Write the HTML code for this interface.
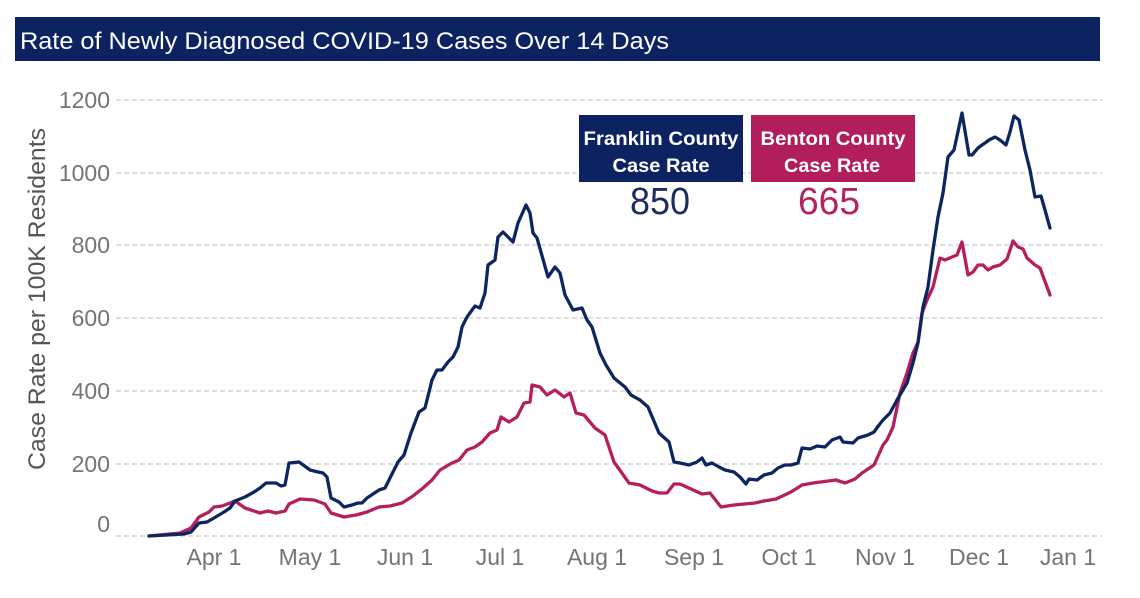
<!DOCTYPE html>
<html>
<head>
<meta charset="utf-8">
<style>
  html,body{margin:0;padding:0;background:#fff;}
  svg{display:block;}
  text{font-family:"Liberation Sans", Arial, sans-serif;}
</style>
</head>
<body>
<svg width="1140" height="598" viewBox="0 0 1140 598" xmlns="http://www.w3.org/2000/svg">
  <rect x="0" y="0" width="1140" height="598" fill="#ffffff"/>
  <!-- Title bar -->
  <rect x="15" y="17" width="1085" height="44" fill="#0c2261"/>
  <text x="20" y="49" font-size="24" fill="#ffffff" textLength="649" lengthAdjust="spacingAndGlyphs">Rate of Newly Diagnosed COVID-19 Cases Over 14 Days</text>

  <!-- Gridlines -->
  <g stroke="#d2d2d2" stroke-width="1.5" stroke-dasharray="5,3" fill="none">
    <line x1="116" y1="100" x2="1102" y2="100"/>
    <line x1="116" y1="173" x2="1102" y2="173"/>
    <line x1="116" y1="245" x2="1102" y2="245"/>
    <line x1="116" y1="318" x2="1102" y2="318"/>
    <line x1="116" y1="391" x2="1102" y2="391"/>
    <line x1="116" y1="464" x2="1102" y2="464"/>
    <line x1="116" y1="536" x2="1102" y2="536"/>
  </g>

  <!-- Y labels -->
  <g font-size="23" fill="#747474" text-anchor="end">
    <text x="110" y="108">1200</text>
    <text x="110" y="181">1000</text>
    <text x="110" y="253">800</text>
    <text x="110" y="326">600</text>
    <text x="110" y="399">400</text>
    <text x="110" y="472">200</text>
    <text x="110" y="532">0</text>
  </g>

  <!-- Y axis title -->
  <text transform="translate(45,299) rotate(-90)" font-size="24" fill="#555555" text-anchor="middle" textLength="342" lengthAdjust="spacingAndGlyphs">Case Rate per 100K Residents</text>

  <!-- X labels -->
  <g font-size="23" fill="#747474" text-anchor="middle">
    <text x="214" y="565">Apr 1</text>
    <text x="310" y="565">May 1</text>
    <text x="405" y="565">Jun 1</text>
    <text x="500" y="565">Jul 1</text>
    <text x="597" y="565">Aug 1</text>
    <text x="694" y="565">Sep 1</text>
    <text x="789" y="565">Oct 1</text>
    <text x="885" y="565">Nov 1</text>
    <text x="979" y="565">Dec 1</text>
    <text x="1068" y="565">Jan 1</text>
  </g>

  <!-- Benton line -->
  <polyline fill="none" stroke="#b41f5c" stroke-width="3.3" stroke-linejoin="round" stroke-linecap="round" points="
149,536 180,533 191,528 199,517 209,512 214,507 222,506 230,503 235,501 245,508 260,513 268,511 276,513 285,511 289,504 300,499 314,500 325,504 331,513 344,517 356,515 367,512 379,507 390,506 402,503 413,496 423,488 432,480 440,470 452,463 459,460 467,450 475,447 482,442 490,433 497,430 501,417 509,422 517,417 524,403 530,402 532,385 540,387 547,395 555,390 564,397 570,393 576,413 584,415 595,428 605,435 614,462 629,483 640,485 652,491 659,493 667,493 674,484 680,484 691,489 702,494 710,493 721,507 734,505 755,503 764,501 776,499 791,492 802,485 813,483 836,480 845,483 855,479 862,473 874,465 883,445 887,440 893,427 900,393 907,373 913,353 918,342 922,313 927,300 933,287 940,258 945,260 952,257 957,255 962,242 968,275 973,272 978,265 983,265 988,270 993,267 1000,265 1007,259 1013,241 1018,247 1023,249 1027,258 1035,265 1040,268 1050,295"/>

  <!-- Franklin line -->
  <polyline fill="none" stroke="#0d2660" stroke-width="3.3" stroke-linejoin="round" stroke-linecap="round" points="
149,536 184,534 191,532 199,523 207,522 214,518 224,512 230,508 235,501 245,497 254,492 260,488 266,483 276,483 281,486 285,485 289,463 299,462 306,467 310,470 318,472 323,473 327,477 331,498 339,502 344,507 352,505 358,503 362,503 367,498 379,490 385,488 390,478 398,462 404,455 411,433 419,412 425,408 432,380 437,370 442,370 448,362 453,357 458,347 462,327 467,317 475,306 480,308 485,293 488,265 495,260 498,237 503,232 508,237 513,242 518,223 526,205 530,213 533,233 537,238 548,277 555,267 560,273 565,295 573,310 582,308 587,320 592,327 600,353 606,365 614,378 625,387 631,395 640,400 648,407 659,433 669,442 674,462 680,463 689,465 697,462 702,458 706,465 712,463 719,467 725,470 734,472 740,477 746,484 749,479 757,480 764,475 772,473 778,468 785,465 791,465 798,463 802,448 810,449 817,446 825,447 832,440 840,437 843,442 853,443 858,438 868,435 874,432 879,425 883,420 890,413 897,400 907,383 913,363 918,343 923,307 928,287 933,250 938,217 943,193 948,157 954,150 962,113 969,155 972,155 978,148 982,145 985,143 989,140 995,137 1000,140 1006,145 1010,132 1014,116 1019,120 1025,150 1030,170 1035,197 1041,196 1045,210 1050,228"/>

  <!-- Franklin box -->
  <rect x="579" y="115" width="164" height="67" fill="#0c2261"/>
  <text x="661" y="145" font-size="19" font-weight="bold" fill="#ffffff" text-anchor="middle" textLength="155" lengthAdjust="spacingAndGlyphs">Franklin County</text>
  <text x="661" y="172" font-size="19" font-weight="bold" fill="#ffffff" text-anchor="middle" textLength="97" lengthAdjust="spacingAndGlyphs">Case Rate</text>
  <text x="660" y="214" font-size="38" fill="#1b2d5e" text-anchor="middle" textLength="60" lengthAdjust="spacingAndGlyphs">850</text>

  <!-- Benton box -->
  <rect x="751" y="115" width="164" height="67" fill="#b11e5b"/>
  <text x="833" y="145" font-size="19" font-weight="bold" fill="#ffffff" text-anchor="middle" textLength="145" lengthAdjust="spacingAndGlyphs">Benton County</text>
  <text x="832" y="172" font-size="19" font-weight="bold" fill="#ffffff" text-anchor="middle" textLength="96" lengthAdjust="spacingAndGlyphs">Case Rate</text>
  <text x="829" y="214" font-size="38" fill="#b42261" text-anchor="middle" textLength="62" lengthAdjust="spacingAndGlyphs">665</text>
</svg>
</body>
</html>
